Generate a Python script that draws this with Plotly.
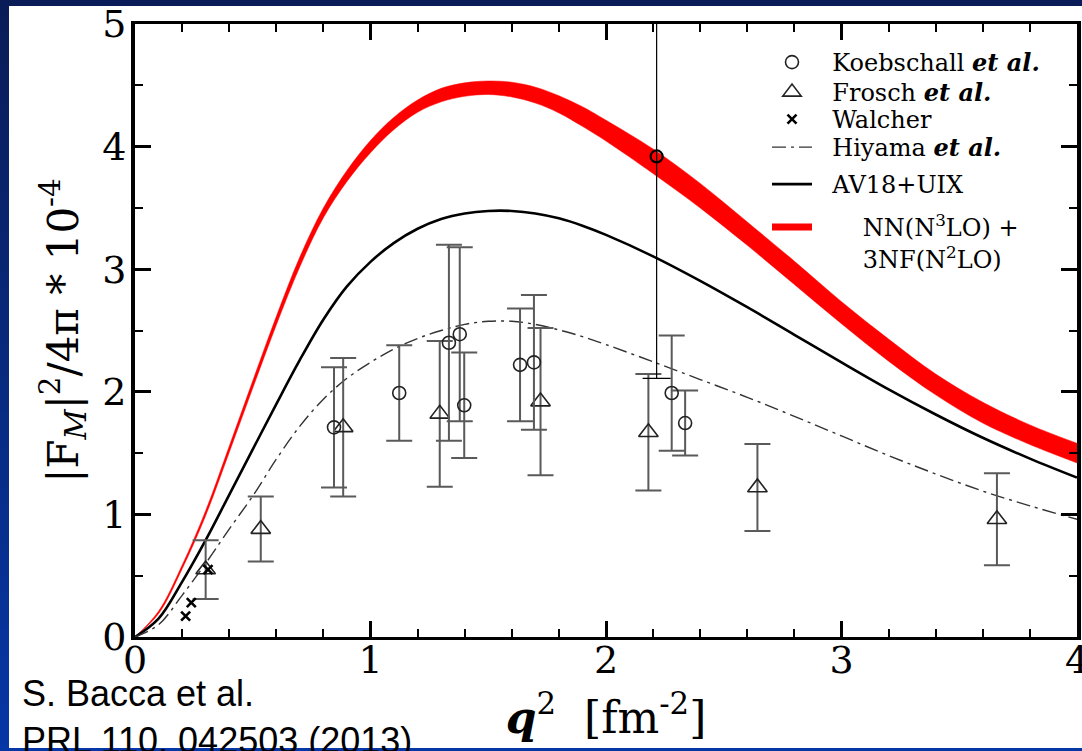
import base64
import plotly.graph_objects as go

# ---------------------------------------------------------------
# Theory curves on a common q^2 grid  [fm^-2]
# ---------------------------------------------------------------
q2_grid = [0.0, 0.1, 0.2, 0.3, 0.4, 0.5, 0.6, 0.7, 0.8, 0.9, 1.0, 1.1, 1.2, 1.3,
           1.4, 1.5, 1.6, 1.7, 1.8, 1.9, 2.0, 2.2, 2.4, 2.6, 2.8, 3.0, 3.2, 3.4,
           3.6, 3.8, 4.0]

# NN(N3LO) + 3NF(N2LO): lower / upper edge of the band
chiral_lower = [0.0, 0.19, 0.555, 0.99, 1.505, 2.03, 2.545, 3.02, 3.42, 3.715, 3.95,
                4.14, 4.28, 4.365, 4.41, 4.425, 4.405, 4.355, 4.275, 4.165, 4.045,
                3.78, 3.50, 3.195, 2.875, 2.555, 2.25, 1.975, 1.745, 1.57, 1.42]
chiral_upper = [0.0, 0.21, 0.585, 1.03, 1.555, 2.09, 2.615, 3.10, 3.50, 3.805, 4.05,
                4.24, 4.38, 4.475, 4.52, 4.535, 4.525, 4.485, 4.415, 4.325, 4.215,
                3.98, 3.70, 3.385, 3.065, 2.735, 2.43, 2.145, 1.915, 1.73, 1.58]

# AV18+UIX
av18_uix = [0.0, 0.15, 0.45, 0.79, 1.16, 1.53, 1.90, 2.26, 2.59, 2.86, 3.06,
            3.215, 3.33, 3.41, 3.455, 3.475, 3.475, 3.455, 3.415, 3.355, 3.28,
            3.105, 2.905, 2.69, 2.465, 2.24, 2.02, 1.815, 1.625, 1.455, 1.30]

# Hiyama et al.
hiyama = [0.0, 0.10, 0.34, 0.60, 0.88, 1.15, 1.45, 1.72, 1.94, 2.11, 2.24,
          2.35, 2.435, 2.50, 2.55, 2.575, 2.575, 2.55, 2.505, 2.45, 2.385,
          2.245, 2.10, 1.955, 1.80, 1.64, 1.48, 1.33, 1.19, 1.07, 0.96]

# ---------------------------------------------------------------
# Experimental data
# ---------------------------------------------------------------
koeb_q2 = [0.845, 1.122, 1.333, 1.379, 1.398, 1.635, 1.694, 2.215, 2.279, 2.336]
koeb_f = [1.71, 1.99, 2.40, 2.47, 1.89, 2.22, 2.24, 3.92, 1.99, 1.745]
koeb_err = [0.49, 0.39, 0.80, 0.71, 0.43, 0.46, 0.55, 1.81, 0.47, 0.265]
koeb_black_bar = [False, False, False, False, False, False, False, True, False, False]

frosch_q2 = [0.30, 0.534, 0.884, 1.294, 1.722, 2.18, 2.643, 3.66]
frosch_f = [0.55, 0.88, 1.71, 1.82, 1.92, 1.67, 1.22, 0.96]
frosch_err = [0.24, 0.265, 0.565, 0.595, 0.60, 0.475, 0.355, 0.375]

walcher_q2 = [0.215, 0.239, 0.31]
walcher_f = [0.17, 0.28, 0.55]

# axis ticks
x_ticks = [0, 1, 2, 3, 4]
y_ticks = [0, 1, 2, 3, 4, 5]

SERIF = "DejaVu Serif"
SANS = "Liberation Sans, Arial, sans-serif"
INK = "black"
BAR_GREY = "#5a5a5a"
NB = "\u00a0"

W, H = 1082, 751
ML, MR, MT, MB = 135, 5, 24, 114
PW, PH = W - ML - MR, H - MT - MB


def px_x(p):
    return (p - ML) / PW


def px_y(p):
    return (H - MB - p) / PH


fig = go.Figure()

# chiral band
fig.add_trace(go.Scatter(
    x=q2_grid, y=chiral_lower, mode="lines", line=dict(color="#ff0000", width=0.5, shape="spline"),
    showlegend=False, hoverinfo="skip"))
fig.add_trace(go.Scatter(
    x=q2_grid, y=chiral_upper, mode="lines", fill="tonexty", fillcolor="#ff0000",
    line=dict(color="#ff0000", width=0.5, shape="spline"),
    showlegend=False, hoverinfo="skip"))
# legend key for the band
fig.add_trace(go.Scatter(
    x=[None], y=[None], mode="lines", line=dict(color="#ff0000", width=7),
    name=NB * 6 + "NN(N<sup>3</sup>LO) +<br>" + NB * 6 + "3NF(N<sup>2</sup>LO)",
    legend="legend6"))

# AV18+UIX
fig.add_trace(go.Scatter(
    x=q2_grid, y=av18_uix, mode="lines", line=dict(color="black", width=2.6, shape="spline"),
    name=NB * 2 + "AV18+UIX", legend="legend5"))

# Hiyama
fig.add_trace(go.Scatter(
    x=q2_grid, y=hiyama, mode="lines",
    line=dict(color="#333333", width=1.4, shape="spline", dash="14px,5px,3px,5px"),
    name=NB * 2 + "Hiyama <b><i>et al.</i></b>", legend="legend4"))

# Frosch
fig.add_trace(go.Scatter(
    x=frosch_q2, y=frosch_f, mode="markers",
    marker=dict(symbol="triangle-up-open", size=17, color="#222222", line=dict(width=1.6)),
    error_y=dict(type="data", array=frosch_err, color=BAR_GREY, thickness=2, width=13),
    name=NB * 2 + "Frosch <b><i>et al.</i></b>", legend="legend2"))

# Koebschall: grey error bars
kg = [i for i, b in enumerate(koeb_black_bar) if not b]
kb = [i for i, b in enumerate(koeb_black_bar) if b]
fig.add_trace(go.Scatter(
    x=[koeb_q2[i] for i in kg], y=[koeb_f[i] for i in kg], mode="markers",
    marker=dict(symbol="circle-open", size=13, color="#222222", line=dict(width=1.6)),
    error_y=dict(type="data", array=[koeb_err[i] for i in kg], color=BAR_GREY, thickness=2, width=13),
    name=NB * 2 + "Koebschall <b><i>et al.</i></b>", legend="legend"))
# Koebschall: point with black error bar
fig.add_trace(go.Scatter(
    x=[koeb_q2[i] for i in kb], y=[koeb_f[i] for i in kb], mode="markers",
    marker=dict(symbol="circle-open", size=12, color="black", line=dict(width=2.2)),
    error_y=dict(type="data", array=[koeb_err[i] for i in kb], color="black", thickness=1.2, width=14),
    showlegend=False))

# Walcher
fig.add_trace(go.Scatter(
    x=walcher_q2, y=walcher_f, mode="markers",
    marker=dict(symbol="x-thin", size=9, color="black", line=dict(width=2.6, color="black")),
    name=NB * 2 + "Walcher", legend="legend3"))

# page background: blue gradient frame and a white panel
svg = ('<svg xmlns="http://www.w3.org/2000/svg" width="20" height="20" preserveAspectRatio="none">'
       '<defs><linearGradient id="g" x1="0" y1="0" x2="0" y2="1">'
       '<stop offset="0" stop-color="#0a1c57"/><stop offset="1" stop-color="#0637a6"/>'
       '</linearGradient></defs><rect width="20" height="20" fill="url(#g)"/></svg>')
bg_src = "data:image/svg+xml;base64," + base64.b64encode(svg.encode()).decode()

legend_style = dict(
    font=dict(family=SERIF, size=24, color=INK),
    bgcolor="rgba(0,0,0,0)", borderwidth=0, itemwidth=40,
    xanchor="left", yanchor="top", x=px_x(767), itemclick=False, itemdoubleclick=False,
)
# top edge of each legend row block (px)
legend_tops = [40, 70, 97, 125, 162, 205]

axis_common = dict(
    showgrid=False, zeroline=False, showline=True, linecolor=INK, mirror="allticks",
    ticks="inside", tickcolor=INK, tickwidth=3, ticklen=16, automargin=False,
    tickfont=dict(family=SERIF, size=38, color=INK), ticklabeloverflow="allow",
)

layout_legends = {}
for k, top in enumerate(legend_tops):
    key = "legend" if k == 0 else f"legend{k + 1}"
    extra = dict(valign="top") if k == 5 else {}
    layout_legends[key] = dict(**legend_style, y=px_y(top), **extra)

fig.update_layout(
    width=W, height=H,
    margin=dict(l=ML, r=MR, t=MT, b=MB, pad=0),
    paper_bgcolor="#0a2a80", plot_bgcolor="white",
    font=dict(family=SERIF, color=INK),
    showlegend=True,
    **layout_legends,
    xaxis=dict(**axis_common, range=[0, 4], tickvals=x_ticks, linewidth=3,
               minor=dict(dtick=0.2, ticks="inside", ticklen=8, tickwidth=2, tickcolor=INK),
               ticklabelstandoff=-13,
               title=dict(text="<b><i>q</i></b><sup>2</sup>" + NB * 2 + "[fm<sup>-2</sup>]",
                          font=dict(family=SERIF, size=44, color=INK), standoff=22)),
    yaxis=dict(**axis_common, range=[0, 5], tickvals=y_ticks, linewidth=4,
               minor=dict(dtick=0.5, ticks="inside", ticklen=8, tickwidth=2, tickcolor=INK),
               ticklabelstandoff=-3,
               title=dict(text="|F<sub><i>M</i></sub>|<sup>2</sup>/4\u03c0 * 10<sup>-4</sup>",
                          font=dict(family=SERIF, size=42, color=INK), standoff=12)),
    images=[dict(source=bg_src, xref="paper", yref="paper", x=px_x(0), y=px_y(0),
                 sizex=W / PW, sizey=H / PH, sizing="stretch", xanchor="left", yanchor="top",
                 layer="below")],
    shapes=[dict(type="rect", xref="paper", yref="paper", layer="below",
                 x0=px_x(9), x1=px_x(W), y0=px_y(748), y1=px_y(6),
                 fillcolor="white", line=dict(width=0))],
    annotations=[dict(text="S. Bacca et al.<br>PRL 110, 042503 (2013)", xref="paper", yref="paper",
                      x=px_x(20), y=px_y(671), xanchor="left", yanchor="top", align="left",
                      showarrow=False, font=dict(family=SANS, size=36, color=INK))],
)

fig.write_html("out.html")
